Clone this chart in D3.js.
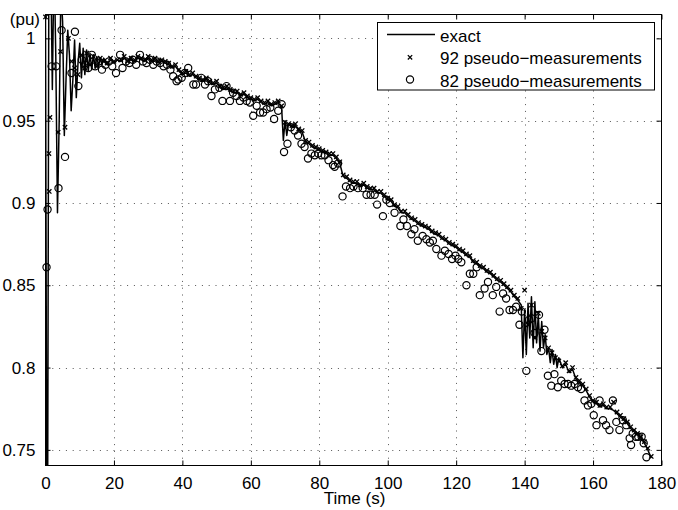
<!DOCTYPE html>
<html>
<head>
<meta charset="utf-8">
<title>pseudo-measurements</title>
<script src="https://d3js.org/d3.v7.min.js"></script>
<style>
    body { margin: 0; background: #fff; }
    text { font-family: "Liberation Sans", Arial, Helvetica, sans-serif; }
</style>
</head>
<body>
<script>
    // exact curve (time in s, value in pu)
    let exactT = [0, 0.5, 1, 1.5, 2, 2.5, 3, 3.5, 4, 4.5, 5, 5.5, 6, 6.5, 7, 7.5, 8, 8.5, 9, 9.5,
        10, 10.5, 11, 11.5, 12, 12.5, 13, 13.5, 14, 14.5, 15, 15.5, 16, 16.5,
        17, 18, 19, 20, 21, 22, 23, 24, 25, 26, 27, 28, 29, 30, 31, 32, 33, 34, 35, 36,
        37, 38, 39, 40, 41, 42, 43, 44, 45, 46, 47, 48, 49, 50, 51, 52, 53, 54, 55, 56,
        57, 58, 59, 60, 61, 62, 63, 64, 65, 66, 67, 68, 69, 69.5, 70, 70.5, 71,
        72, 73, 74, 75, 76, 77, 78, 79, 80, 81, 82, 83, 84, 85, 86, 87, 88, 89, 90, 91,
        92, 93, 94, 95, 96, 97, 98, 99, 100, 101, 102, 103, 104, 105, 106, 107, 108, 109, 110, 111,
        112, 113, 114, 115, 116, 117, 118, 119, 120, 121, 122, 123, 124, 125, 126, 127, 128, 129, 130, 131,
        132, 133, 134, 135, 136, 137, 138, 139, 139.5, 140, 140.5, 141, 141.5, 142, 142.5, 143, 143.5,
        144, 144.5, 145, 145.5, 146, 146.5, 147, 147.5, 148, 148.5, 149, 149.5, 150,
        151, 152, 153, 154, 155, 156, 157, 158, 159, 160, 161, 162, 163, 164, 165, 166, 167, 168, 169, 170,
        171, 172, 173, 174, 175, 176, 177];
    let exactV = [1.013, 0.60, 1.06, 1.05, 0.969, 1.05, 0.99, 0.894, 0.95, 1.03, 1.01, 0.941, 0.975, 1.005, 0.99, 0.956, 0.975, 0.999, 0.964, 0.985,
        0.997, 0.976, 0.994, 0.978, 0.993, 0.980, 0.991, 0.981, 0.990, 0.982, 0.989, 0.983, 0.988, 0.984,
        0.988, 0.984, 0.987, 0.985, 0.987, 0.986, 0.988, 0.986, 0.987, 0.986, 0.988, 0.987, 0.986, 0.988, 0.986, 0.987, 0.985, 0.986, 0.985, 0.984,
        0.982, 0.983, 0.980, 0.978, 0.979, 0.977, 0.978, 0.976, 0.975, 0.974, 0.975, 0.973, 0.972, 0.973, 0.970, 0.969, 0.970, 0.968, 0.967, 0.967,
        0.965, 0.966, 0.964, 0.963, 0.962, 0.963, 0.961, 0.960, 0.961, 0.959, 0.960, 0.961, 0.958, 0.938, 0.950, 0.941, 0.948,
        0.946, 0.947, 0.944, 0.943, 0.937, 0.936, 0.934, 0.933, 0.932, 0.931, 0.930, 0.929, 0.929, 0.927, 0.924, 0.916, 0.915, 0.913, 0.912, 0.912,
        0.910, 0.911, 0.909, 0.908, 0.908, 0.906, 0.906, 0.904, 0.902, 0.901, 0.898, 0.897, 0.894, 0.894, 0.892, 0.890, 0.889, 0.887, 0.886, 0.885,
        0.884, 0.882, 0.881, 0.880, 0.878, 0.877, 0.875, 0.874, 0.873, 0.871, 0.870, 0.868, 0.867, 0.864, 0.863, 0.861, 0.860, 0.858, 0.857, 0.855,
        0.853, 0.852, 0.850, 0.848, 0.846, 0.843, 0.841, 0.838, 0.806, 0.835, 0.808, 0.839, 0.818, 0.843, 0.812, 0.840, 0.815,
        0.832, 0.810, 0.828, 0.812, 0.820, 0.808, 0.812, 0.803, 0.811, 0.802, 0.808, 0.800, 0.806,
        0.800, 0.802, 0.797, 0.799, 0.793, 0.791, 0.789, 0.786, 0.782, 0.779, 0.778, 0.776, 0.777, 0.775, 0.775, 0.774, 0.772, 0.770, 0.768, 0.766,
        0.763, 0.761, 0.759, 0.757, 0.754, 0.750, 0.745];

    // 92 pseudo-measurements (x markers)
    let crossT = [0, 1.0, 1.1, 1.3, 3.7, 4.4, 5.7, 6.7, 7.6, 8.5, 9.5, 10.5, 11.5,
        12, 13, 14, 15, 16, 17, 18, 19, 20, 21, 22, 23, 24, 25, 26, 27, 28, 29, 30, 31,
        32, 33, 34, 35, 36, 37, 38, 39, 40, 41, 42, 43, 44, 45, 46, 47, 48, 49, 50, 51,
        52, 53, 54, 55, 56, 57, 58, 59, 60, 61, 62, 63, 64, 65, 66, 67, 68, 69, 70, 71,
        72, 73, 74, 75, 76, 77, 78, 79, 80, 81, 82, 83, 84, 85, 86, 87, 88, 89, 90, 91,
        92, 93, 94, 95, 96, 97, 98, 99, 100, 101, 102, 103, 104, 105, 106, 107, 108, 109, 110, 111,
        112, 113, 114, 115, 116, 117, 118, 119, 120, 121, 122, 123, 124, 125, 126, 127, 128, 129, 130, 131,
        132, 133, 134, 135, 136, 137, 138, 139, 140, 141, 142, 143, 144, 145, 146, 147, 148, 149, 150, 151,
        152, 153, 154, 155, 156, 157, 158, 159, 160, 161, 162, 163, 164, 165, 166, 167, 168, 169, 170, 171,
        172, 173, 174, 175, 176, 177];
    let crossV = [1.013, 0.930, 0.907, 0.952, 0.943, 0.992, 0.946, 1.000, 0.986, 0.982, 0.978, 0.990, 0.982,
        0.991, 0.984, 0.989, 0.983, 0.988, 0.986, 0.985, 0.988, 0.986, 0.987, 0.987, 0.989, 0.986, 0.988, 0.987, 0.989, 0.988, 0.987, 0.989, 0.987,
        0.988, 0.986, 0.987, 0.986, 0.985, 0.983, 0.984, 0.981, 0.979, 0.980, 0.978, 0.979, 0.977, 0.976, 0.975, 0.976, 0.974, 0.973, 0.974, 0.971,
        0.970, 0.971, 0.969, 0.968, 0.968, 0.966, 0.967, 0.965, 0.964, 0.963, 0.964, 0.962, 0.961, 0.962, 0.960, 0.961, 0.962, 0.959, 0.949, 0.948,
        0.947, 0.948, 0.945, 0.944, 0.938, 0.937, 0.935, 0.934, 0.933, 0.932, 0.931, 0.930, 0.930, 0.928, 0.925, 0.917, 0.916, 0.914, 0.913, 0.913,
        0.911, 0.912, 0.910, 0.909, 0.909, 0.907, 0.907, 0.905, 0.903, 0.902, 0.899, 0.898, 0.895, 0.895, 0.893, 0.891, 0.890, 0.888, 0.887, 0.886,
        0.885, 0.883, 0.882, 0.881, 0.879, 0.878, 0.876, 0.875, 0.874, 0.872, 0.871, 0.869, 0.868, 0.865, 0.864, 0.862, 0.861, 0.859, 0.858, 0.856,
        0.854, 0.853, 0.851, 0.849, 0.847, 0.844, 0.842, 0.836, 0.847, 0.826, 0.838, 0.818, 0.833, 0.822, 0.818, 0.812, 0.809, 0.806, 0.804, 0.801,
        0.803, 0.798, 0.800, 0.794, 0.792, 0.790, 0.787, 0.783, 0.780, 0.779, 0.777, 0.778, 0.776, 0.776, 0.779, 0.773, 0.771, 0.769, 0.767, 0.764,
        0.762, 0.760, 0.758, 0.755, 0.751, 0.746];

    // 82 pseudo-measurements (circles)
    let circT = [0.3, 0.6, 1.8, 3.1, 3.8, 4.7, 5.7, 7.6, 8.6, 9.6, 10.6, 11.6, 12.5, 13.5, 14.5, 15.5, 16.5, 17.5, 18.5, 19.5,
        20.6, 21.8, 22.5, 23.5, 24.5, 25.5, 26.5, 27.6, 28.5, 29.5, 30.5, 31.5, 32.5, 33.5, 34.5, 35.5, 36.5, 37.3, 38.3, 38.8,
        39.8, 40.7, 41.7, 43.2, 44, 45.5, 46.6, 47.5, 48.5, 49.5, 50.8, 51.7, 52.9, 53.9, 54.8, 55.8, 56.8, 57.8, 58.8, 59.7,
        60.7, 61.7, 62.7, 63.6, 64.6, 65.7, 66.8, 68, 69, 69.7, 70.7, 71.7, 72.8, 73.8, 74.8, 75.7, 76.7, 77.7, 78.7, 79.7,
        80.6, 81.6, 82.7, 84, 84.5, 85.5, 86.8, 87.8, 89, 90, 91.3, 92.7, 93.8, 95, 96.2, 96.9, 98.6, 99.6, 100.6, 102,
        103.7, 104.6, 105.6, 106.9, 107.8, 108.8, 110.2, 111.3, 112.3, 113.2, 114.2, 115.7, 116.7, 117.8, 118.8, 119.8, 120.6, 121.5, 123, 124,
        125, 126, 126.9, 128.3, 129.3, 130.7, 131.7, 132.7, 133.7, 134.6, 135.6, 136.6, 137.5, 138.5, 139.2, 140.5, 141.3, 142, 142.9, 144.2,
        144.9, 145.8, 146.8, 147.8, 148.7, 149.7, 150.7, 151.7, 152.7, 153.6, 154.6, 155.6, 156.5, 157.5, 158.5, 159.5, 160.2, 161, 161.9, 162.9,
        163.8, 164.8, 165.8, 166.8, 167.7, 168.7, 169.7, 170.7, 171.1, 171.6, 172.5, 173.2, 174.2, 174.8, 175.6];
    let circV = [0.861, 0.896, 0.983, 0.983, 0.909, 1.005, 0.928, 0.979, 1.004, 0.971, 0.987, 0.984, 0.982, 0.990, 0.983, 0.986, 0.981, 0.984, 0.986, 0.983,
        0.979, 0.990, 0.982, 0.986, 0.985, 0.987, 0.984, 0.990, 0.986, 0.985, 0.987, 0.984, 0.986, 0.985, 0.983, 0.984, 0.981, 0.977, 0.974, 0.975,
        0.976, 0.979, 0.982, 0.972, 0.972, 0.976, 0.972, 0.974, 0.965, 0.969, 0.970, 0.962, 0.971, 0.962, 0.967, 0.965, 0.962, 0.964, 0.962, 0.961,
        0.953, 0.959, 0.955, 0.955, 0.957, 0.958, 0.951, 0.956, 0.960, 0.931, 0.936, 0.946, 0.944, 0.941, 0.936, 0.934, 0.927, 0.930, 0.929, 0.930,
        0.929, 0.929, 0.926, 0.923, 0.922, 0.924, 0.904, 0.910, 0.909, 0.910, 0.909, 0.909, 0.905, 0.905, 0.905, 0.899, 0.892, 0.902, 0.900, 0.894,
        0.886, 0.890, 0.886, 0.881, 0.884, 0.877, 0.880, 0.878, 0.876, 0.877, 0.872, 0.868, 0.871, 0.869, 0.866, 0.868, 0.866, 0.864, 0.850, 0.857,
        0.857, 0.861, 0.844, 0.848, 0.852, 0.844, 0.849, 0.834, 0.845, 0.842, 0.835, 0.835, 0.837, 0.826, 0.834, 0.798, 0.829, 0.830, 0.821, 0.832,
        0.810, 0.823, 0.795, 0.789, 0.796, 0.788, 0.792, 0.790, 0.790, 0.789, 0.790, 0.788, 0.787, 0.780, 0.777, 0.778, 0.771, 0.765, 0.780, 0.768,
        0.765, 0.762, 0.780, 0.767, 0.762, 0.768, 0.765, 0.757, 0.753, 0.760, 0.758, 0.758, 0.758, 0.754, 0.7455];

    let xTicks = [0, 20, 40, 60, 80, 100, 120, 140, 160, 180];
    let yTicks = [0.75, 0.8, 0.85, 0.9, 0.95, 1];
    let legendLabels = ["exact", "92 pseudo\u2212measurements", "82 pseudo\u2212measurements"];

    let width = 678, height = 510;
    let pLeft = 45.5, pRight = 661.5, pTop = 14.5, pBottom = 465.5;

    let svg = d3.select("body").append("svg")
        .attr("width", width)
        .attr("height", height);

    let x = d3.scaleLinear().domain([0, 180]).range([pLeft, pRight]);
    let y = d3.scaleLinear().domain([0.7405, 1.0145]).range([pBottom, pTop]);

    // dotted grid
    let grid = svg.append("g").attr("stroke", "#555").attr("stroke-width", 1)
        .attr("stroke-dasharray", "1,5.8");
    grid.selectAll("line.gx")
        .data(xTicks.slice(1, -1))
        .join("line")
        .attr("class", "gx")
        .attr("x1", d => Math.round(x(d)) + 0.5).attr("x2", d => Math.round(x(d)) + 0.5)
        .attr("y1", pBottom).attr("y2", pTop);
    grid.selectAll("line.gy")
        .data(yTicks)
        .join("line")
        .attr("class", "gy")
        .attr("y1", d => Math.round(y(d)) + 0.5).attr("y2", d => Math.round(y(d)) + 0.5)
        .attr("x1", pLeft).attr("x2", pRight);

    // axes with inward ticks
    function styleAxis(g) {
        g.select(".domain").remove();
        g.selectAll(".tick line").attr("stroke", "#000");
        g.selectAll("text").attr("font-size", 17).attr("fill", "#000")
            .attr("font-family", '"Liberation Sans", Arial, sans-serif');
    }
    svg.append("g").attr("transform", `translate(0,${pBottom})`)
        .call(d3.axisBottom(x).tickValues(xTicks).tickSize(-5).tickPadding(11).tickFormat(d3.format("d")))
        .call(styleAxis);
    svg.append("g").attr("transform", `translate(0,${pTop})`)
        .call(d3.axisTop(x).tickValues(xTicks).tickSize(-5).tickFormat(""))
        .call(styleAxis);
    svg.append("g").attr("transform", `translate(${pLeft},0)`)
        .call(d3.axisLeft(y).tickValues(yTicks).tickSize(-5).tickPadding(10).tickFormat(d => String(+d.toFixed(2))))
        .call(styleAxis);
    svg.append("g").attr("transform", `translate(${pRight},0)`)
        .call(d3.axisRight(y).tickValues(yTicks).tickSize(-5).tickFormat(""))
        .call(styleAxis);

    svg.append("defs").append("clipPath").attr("id", "plotclip")
        .append("rect").attr("x", pLeft).attr("y", pTop)
        .attr("width", pRight - pLeft).attr("height", pBottom - pTop);

    // exact line
    let line = d3.line().x(d => x(d[0])).y(d => y(d[1]));
    svg.append("path")
        .datum(exactT.map((t, i) => [t, exactV[i]]))
        .attr("clip-path", "url(#plotclip)")
        .attr("d", line)
        .attr("fill", "none")
        .attr("stroke", "#000")
        .attr("stroke-width", 1.5)
        .attr("stroke-linejoin", "round");

    // x markers
    let cross = d3.symbol().type(d3.symbolX).size(14);
    svg.append("g").selectAll("path")
        .data(crossT.map((t, i) => [t, crossV[i]]))
        .join("path")
        .attr("transform", d => `translate(${x(d[0])},${y(d[1])})`)
        .attr("d", cross)
        .attr("fill", "none")
        .attr("stroke", "#000")
        .attr("stroke-width", 1.3);

    // circles
    svg.append("g").selectAll("circle")
        .data(circT.map((t, i) => [t, circV[i]]))
        .join("circle")
        .attr("cx", d => x(d[0]))
        .attr("cy", d => y(d[1]))
        .attr("r", 3.6)
        .attr("fill", "none")
        .attr("stroke", "#000")
        .attr("stroke-width", 1.2);

    // frame
    svg.append("rect")
        .attr("x", pLeft).attr("y", pTop)
        .attr("width", pRight - pLeft).attr("height", pBottom - pTop)
        .attr("fill", "none").attr("stroke", "#000").attr("stroke-width", 1);

    // axis labels
    svg.append("text").attr("x", 40).attr("y", 24.5).attr("text-anchor", "end")
        .attr("font-size", 17).text("(pu)");
    svg.append("text").attr("x", 354.5).attr("y", 504).attr("text-anchor", "middle")
        .attr("font-size", 17).text("Time (s)");

    // legend
    let lg = svg.append("g");
    lg.append("rect").attr("x", 377.5).attr("y", 22.5).attr("width", 277).attr("height", 67.5)
        .attr("fill", "#fff").attr("stroke", "#000").attr("stroke-width", 1);
    let rows = [41.5, 64.3, 87];
    lg.append("line").attr("x1", 387).attr("x2", 435).attr("y1", 34.5).attr("y2", 34.5)
        .attr("stroke", "#000").attr("stroke-width", 1.5);
    lg.append("path").attr("transform", `translate(410,${rows[1] - 7})`)
        .attr("d", cross).attr("fill", "none").attr("stroke", "#000").attr("stroke-width", 1.3);
    lg.append("circle").attr("cx", 410).attr("cy", rows[2] - 7.5).attr("r", 3.6)
        .attr("fill", "none").attr("stroke", "#000").attr("stroke-width", 1.2);
    lg.selectAll("text.lab")
        .data(legendLabels)
        .join("text")
        .attr("class", "lab")
        .attr("x", 440)
        .attr("y", (d, i) => rows[i])
        .attr("font-size", 17)
        .text(d => d);
</script>
</body>
</html>
